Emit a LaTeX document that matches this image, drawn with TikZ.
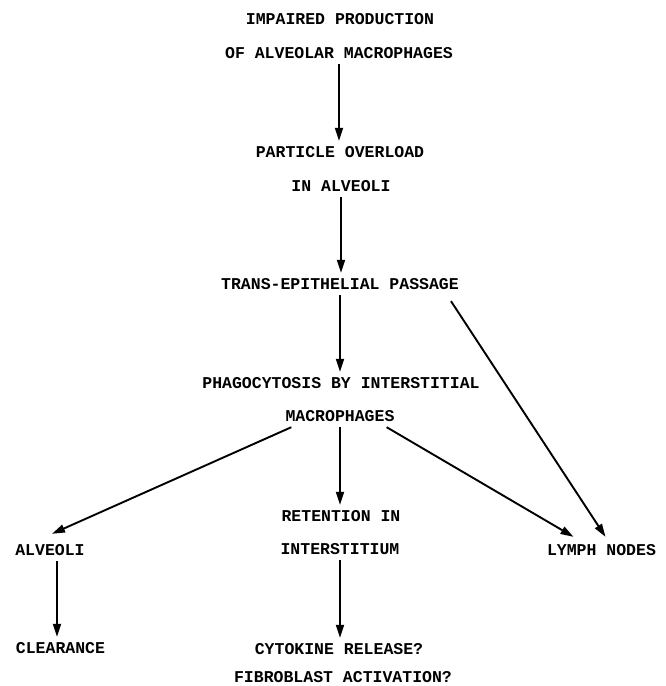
\documentclass[tikz,border=0pt]{standalone}
\usepackage{fontspec}
\setmonofont{Liberation Mono}
\usepackage{tikz}
\usetikzlibrary{calc}
\usetikzlibrary{arrows.meta}
\newcommand{\flowcolx}{340}
\tikzstyle{flowtext}=[font=\ttfamily\bfseries\fontsize{16.5}{18}\selectfont,text height=10pt,text depth=0pt,inner xsep=6pt,inner ysep=6pt]
\tikzstyle{flowedge}=[draw=black,line width=1.9pt,-{Triangle[length=13pt,width=8pt]}]

\begin{document}
\begin{tikzpicture}[x=1pt,y=-1pt]
  \useasboundingbox (0,0) rectangle (665,686);
  % Main column.
  \node[flowtext] (imp) at (\flowcolx, 19) {IMPAIRED PRODUCTION};
  \node[flowtext] (ofam) at (339, 53) {OF ALVEOLAR MACROPHAGES};
  \node[flowtext] (po) at (\flowcolx, 152) {PARTICLE OVERLOAD};
  \node[flowtext] (ina) at (341, 186) {IN ALVEOLI};
  \node[flowtext] (tep) at (\flowcolx, 284) {TRANS-EPITHELIAL PASSAGE};
  \node[flowtext] (phg) at (341, 383) {PHAGOCYTOSIS BY INTERSTITIAL};
  \node[flowtext] (mac) at (\flowcolx, 416) {MACROPHAGES};
  \node[flowtext] (ret) at (341, 516) {RETENTION IN};
  \node[flowtext] (ist) at (\flowcolx, 549) {INTERSTITIUM};
  \node[flowtext] (cyt) at (339, 649) {CYTOKINE RELEASE?};
  \node[flowtext, inner ysep=1pt] (fib) at (343, 677) {FIBROBLAST ACTIVATION?};
  % Side columns.
  \node[flowtext] (alv) at (50, 550) {ALVEOLI};
  \node[flowtext] (clr) at (60.5, 648) {CLEARANCE};
  \node[flowtext] (lym) at (601.5, 550) {LYMPH NODES};
  % Edges.
  \path[flowedge] (ofam.south) -- (ofam.south |- po.north);
  \path[flowedge] (ina.south) -- (ina.south |- tep.north);
  \path[flowedge] (tep.south) -- (tep.south |- phg.north);
  \path[flowedge] ([xshift=-14pt,yshift=-6pt]tep.south east) -- ([xshift=4pt,yshift=2pt]lym.north);
  \path[flowedge] ([xshift=12pt]mac.south west) -- ([xshift=2pt,yshift=5pt]alv.north);
  \path[flowedge] (mac.south) -- (mac.south |- ret.north);
  \path[flowedge] ([xshift=-14pt]mac.south east) -- ([xshift=-28pt,yshift=2pt]lym.north);
  \path[flowedge] (ist.south) -- (ist.south |- cyt.north);
  \path[flowedge] ([xshift=7pt]alv.south) -- ([xshift=7pt]alv.south |- clr.north);
\end{tikzpicture}
\end{document}
